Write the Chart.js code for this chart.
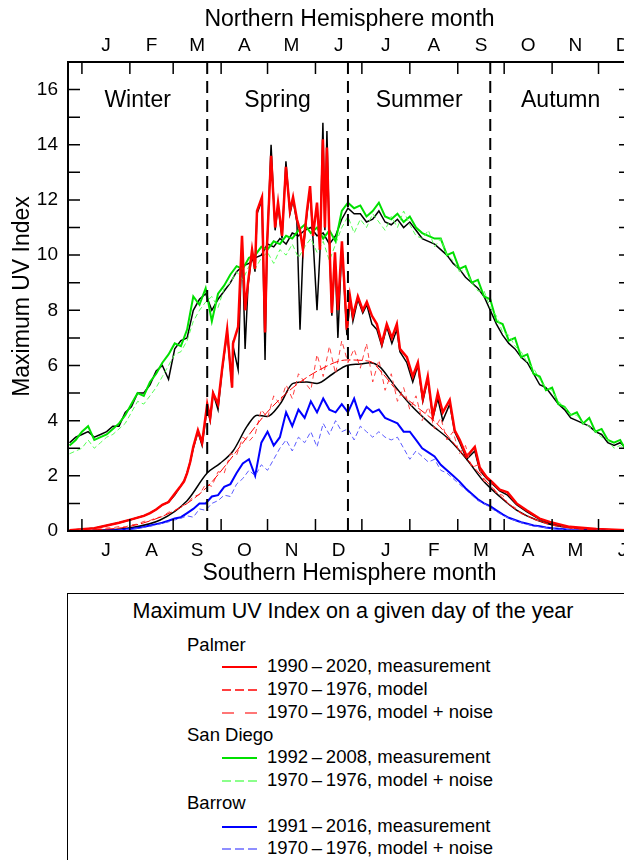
<!DOCTYPE html>
<html>
<head>
<meta charset="utf-8">
<script src="https://cdn.jsdelivr.net/npm/chart.js@4.4.1/dist/chart.umd.min.js"></script>
<style>
  html, body { margin: 0; padding: 0; background: #fff; width: 624px; height: 860px; overflow: hidden; }
  body { position: relative; font-family: "Liberation Sans", Arial, sans-serif; color: #000; }
  #uv { position: absolute; left: 0; top: 0; }
  #legend { position: absolute; left: 67px; top: 593px; width: 572px; height: 290px; border: 1.5px solid #000; box-sizing: border-box; }
  #legend .ttl { position: absolute; left: 0; right: 0; top: 5px; text-align: center; font-size: 21.5px; }
  #legend .grp { position: absolute; left: 119px; font-size: 18.5px; }
  #legend .item { position: absolute; left: 154px; font-size: 18.5px; white-space: nowrap; }
  #legend .item svg { vertical-align: middle; margin-right: 9px; }
</style>
</head>
<body>
<canvas id="uv" width="640" height="590"></canvas>
<div id="legend"></div>
<script>
// day of year (Northern calendar), every 4 days
const days4 = [-8,-4,0,4,8,12,16,20,24,28,32,36,40,44,48,52,56,60,64,68,72,76,80,84,88,92,96,100,104,108,
  112,116,120,124,128,132,136,140,144,148,152,156,160,164,168,172,176,180,184,188,192,196,200,204,208,212,216,220,224,228,
  232,236,240,244,248,252,256,260,264,268,272,276,280,284,288,292,296,300,304,308,312,316,320,324,328,332,336,340,344,348,352];

const monthStarts = [0,31,59,90,120,151,181,212,243,273,304,334,365];
const northMonths = ['J','F','M','A','M','J','J','A','S','O','N','D'];
const southMonths = ['J','A','S','O','N','D','J','F','M','A','M','J'];
const seasonDays = [81, 172, 264];
const seasonNames = ['Winter','Spring','Summer','Autumn'];
const yTicks = [0,2,4,6,8,10,12,14,16];

// San Diego
const sdMeas = [3.1,3.3,3.6,3.8,3.3,3.4,3.5,3.7,3.9,4.2,
  4.6,5.0,4.9,5.4,5.7,6.1,6.4,6.8,6.7,7.3,
  8.5,8.2,8.8,7.6,8.6,8.9,9.3,9.6,9.5,9.9,
  10.0,10.3,10.2,10.5,10.4,10.7,10.6,10.9,11.1,10.8,
  11.0,10.6,10.9,10.5,11.6,11.9,11.7,11.8,11.4,11.6,
  11.9,11.4,11.3,11.5,11.2,11.4,11.0,10.8,10.7,10.6,
  10.6,10.0,10.1,9.5,9.6,9.0,9.1,8.5,8.4,7.6,
  7.5,6.9,7.0,6.3,6.4,5.7,5.6,5.1,5.2,4.6,
  4.5,4.2,4.3,3.9,4.1,3.6,3.7,3.3,3.2,3.3,2.9];
const sdNoise = [2.8,2.9,3.0,3.3,3.0,3.2,3.4,3.5,3.7,3.9,
  4.3,4.7,4.6,4.9,5.2,5.6,6.0,6.4,6.5,6.9,
  7.6,8.0,8.3,8.5,8.1,8.8,9.0,9.4,9.1,9.6,
  9.5,9.9,10.1,9.7,10.2,10.0,10.4,9.9,10.3,10.6,
  10.1,10.5,9.8,10.4,11.0,11.4,10.8,11.3,11.0,11.5,
  11.2,10.9,11.4,11.0,11.6,11.1,10.7,10.6,10.9,10.3,
  10.6,10.0,9.8,9.4,9.5,9.0,8.7,8.7,8.1,7.8,
  7.2,7.1,6.7,6.5,6.1,5.9,5.5,5.2,5.1,4.7,
  4.5,4.2,4.2,3.9,3.8,3.6,3.4,3.3,3.0,3.1,2.9];
const sdBlack = [3.2,3.4,3.5,3.6,3.4,3.5,3.6,3.8,3.8,4.3,
  4.5,5.0,5.0,5.3,5.8,6.0,5.5,6.6,6.9,7.0,
  8.0,8.4,8.6,8.0,8.4,8.7,9.0,9.4,9.6,9.7,
  9.9,10.0,10.4,10.3,10.6,10.4,10.8,10.7,10.9,11.0,
  10.7,10.8,10.4,10.7,11.3,11.7,11.5,11.5,11.2,11.3,
  11.6,11.2,11.1,11.3,11.0,11.2,10.9,10.6,10.5,10.4,
  10.2,10.0,9.7,9.5,9.2,9.0,8.8,8.5,8.0,7.5,
  7.1,6.8,6.6,6.3,6.1,5.7,5.3,5.2,4.9,4.6,
  4.4,4.1,4.0,3.9,3.8,3.6,3.5,3.2,3.1,3.2,3.0];

// Palmer (irregular sampling through the spiky spring)
const palmerDays = [-8,0,8,16,24,32,40,44,48,52,
  56,60,63.5,66,68,70,72,75,77.7,81,
  82.9,84.8,88,90.6,93.9,97.1,97.7,101,103.5,105.5,
  107.4,110,111.9,113.2,116.4,118.4,119.7,122.3,124.9,126.8,
  129.4,131.9,134.5,136.5,139,141,142.9,145.5,147.5,149.4,
  152,153.9,155.8,157.1,158.4,160.4,161.6,163.6,165.5,168.1,
  171.3,173.3,175.2,178.4,181.6,184.2,187.5,190.7,193.9,197.1,
  200.4,203.6,205.6,210.1,213.9,217.2,220.4,223.6,226.9,230.1,
  233.3,237.8,241,244.3,248.8,254,257.2,261.7,265.6,270.1,
  275.2,281,287.5,295.9,302.4,315.3,332.7,352];
const palmerMeas = [0.03,0.06,0.1,0.2,0.3,0.42,0.55,0.65,0.78,0.95,
  1.05,1.35,1.6,1.8,2.1,2.5,3.05,3.65,3.2,4.6,
  4.1,5.0,4.6,5.85,7.3,5.2,6.8,7.4,10.7,8.0,
  9.0,10.2,9.5,11.6,12.1,7.2,10.4,13.6,11.0,11.9,
  10.7,13.2,11.6,12.1,11.3,10.9,10.2,11.6,12.5,10.7,
  11.9,10.2,14.2,11.0,13.9,9.8,7.9,10.1,8.0,10.5,
  7.3,8.5,7.8,8.5,8.0,8.3,7.8,7.5,6.8,7.5,
  7.0,7.5,6.6,6.3,5.6,6.1,4.8,5.6,4.15,5.0,
  4.3,4.75,3.65,3.3,2.7,3.05,2.3,1.95,1.75,1.5,
  1.4,1.0,0.75,0.45,0.33,0.15,0.07,0.03];
const palmerBlack = [0.03,0.06,0.1,0.2,0.3,0.42,0.55,0.65,0.78,0.95,
  1.05,1.3,1.6,1.8,2.1,2.5,3.0,3.6,3.1,4.5,
  4.0,5.0,4.4,5.8,7.2,5.2,6.7,5.85,10.6,6.6,
  8.9,10.1,9.4,11.5,12.0,6.2,10.3,14.0,10.9,11.8,
  10.6,13.4,11.5,12.0,11.2,7.3,10.1,11.5,12.4,10.6,
  8.0,10.1,14.8,10.9,14.5,9.7,7.8,10.0,7.0,10.4,
  7.1,8.4,7.6,8.4,7.9,8.2,7.5,7.3,6.7,7.4,
  6.8,7.3,6.5,6.1,5.4,6.0,4.7,5.5,4.1,4.8,
  4.0,4.6,3.6,3.2,2.6,2.9,2.2,1.9,1.7,1.45,
  1.3,0.95,0.7,0.42,0.3,0.14,0.06,0.03];
const palmerModelDays = [-8,10,29.3,50.6,68,81,93.9,106.8,119.7,136.5,153.9,171.3,186.2,194.6,203.6,216.5,229.4,242.3,255.2,268.2,281,294,310.8,332.7,352];
const palmerModel = [0.01,0.05,0.15,0.5,1.0,1.6,2.45,3.4,4.3,5.2,5.85,6.2,6.15,5.7,5.1,4.5,3.9,3.05,2.2,1.4,0.76,0.4,0.15,0.04,0.01];
const palmerNoise = [0.01,0.02,0.04,0.03,0.07,0.08,0.11,0.12,0.16,0.15,
  0.22,0.25,0.35,0.38,0.48,0.52,0.68,0.74,0.9,0.98,
  1.25,1.32,1.7,1.62,2.15,2.1,2.8,2.75,3.4,3.25,
  3.5,4.4,4.1,4.9,4.6,5.3,4.8,5.7,5.4,5.1,
  6.4,5.6,6.7,5.7,6.9,6.1,6.6,5.9,6.8,5.4,
  6.2,5.1,5.7,4.7,5.2,4.4,4.9,4.0,4.5,3.7,
  4.1,3.3,3.6,2.8,3.1,2.3,2.4,1.8,1.8,1.35,
  1.3,0.95,0.85,0.63,0.56,0.41,0.36,0.27,0.22,0.16,
  0.14,0.1,0.08,0.06,0.05,0.04,0.03,0.03,0.02,0.02,0.01];
const blackSmoothDays = [-8,10,29.3,50.6,68,81,89.3,97.7,106.8,113.2,119.7,128.1,136.5,145.5,152,162.3,171.3,179.7,186.2,192.6,201,212,224.9,237.8,248.8,259,270.1,281,294,310.8,332.7,352];
const blackSmooth = [0.01,0.03,0.1,0.4,1.1,2.1,2.45,2.9,3.8,4.2,4.15,4.6,5.35,5.4,5.35,5.7,6.0,6.05,6.1,5.95,5.35,4.6,3.9,3.3,2.6,1.85,1.25,0.76,0.4,0.15,0.04,0.01];

// Barrow
const barrowMeas = [0,0,0,0,0.01,0.01,0.02,0.03,0.04,0.06,
  0.08,0.11,0.15,0.2,0.25,0.3,0.37,0.45,0.5,0.65,
  0.8,1.0,1.0,1.25,1.3,1.6,1.7,2.1,2.45,2.6,
  2.0,3.2,3.6,3.1,3.4,4.3,3.8,4.4,4.1,4.7,
  4.3,4.8,4.4,4.3,4.6,4.3,4.8,4.1,4.5,4.3,
  4.4,4.1,4.0,3.9,3.6,3.6,3.3,3.0,2.85,2.7,
  2.4,2.2,2.0,1.8,1.55,1.35,1.15,1.0,0.9,0.75,
  0.6,0.48,0.4,0.32,0.26,0.2,0.17,0.13,0.1,0.08,
  0.06,0.04,0.03,0.02,0.02,0.01,0.01,0,0,0,0];
const barrowNoise = [0,0,0,0,0.01,0.01,0.02,0.02,0.03,0.05,
  0.07,0.09,0.13,0.17,0.22,0.28,0.33,0.4,0.46,0.55,
  0.5,0.8,0.75,1.0,1.1,1.3,1.25,1.7,1.9,2.2,
  2.0,2.4,2.2,2.6,3.0,3.3,2.9,3.4,3.2,3.6,
  3.05,3.9,3.5,4.0,3.6,3.7,3.3,3.8,3.6,3.4,
  3.6,3.4,3.3,3.4,3.0,2.6,2.9,2.7,2.5,2.6,
  2.2,2.1,1.9,1.7,1.5,1.3,1.1,1.0,0.85,0.7,
  0.58,0.46,0.38,0.3,0.24,0.19,0.15,0.12,0.09,0.07,
  0.05,0.04,0.03,0.02,0.01,0.01,0,0,0,0,0];

const FONT = '"Liberation Sans", Arial, sans-serif';
const pts = (xs, ys) => xs.map((d, i) => ({ x: d, y: ys[i] }));
const monthMids = monthStarts.slice(0, 12).map((d, i) => (d + monthStarts[i + 1]) / 2);

function series(label, xs, ys, color, width, dash, smooth) {
  return {
    label, data: pts(xs, ys), borderColor: color, borderWidth: width,
    borderDash: dash || [], pointRadius: 0, fill: false,
    tension: smooth ? 0.4 : 0, cubicInterpolationMode: smooth ? 'monotone' : 'default'
  };
}

// first listed is drawn on top
const datasets = [
  series('Palmer model', palmerModelDays, palmerModel, '#ff0000', 1, [9, 3], true),
  series('Palmer model + noise', days4, palmerNoise, '#ff4040', 1, [5, 4]),
  series('Barrow model + noise', days4, barrowNoise, '#5a5aff', 1, [5, 3]),
  series('Barrow measurement', days4, barrowMeas, '#0000ff', 2),
  series('Palmer measurement', palmerDays, palmerMeas, '#ff0000', 2.5),
  series('San Diego model + noise', days4, sdNoise, '#55ff55', 1, [5, 3]),
  series('San Diego measurement', days4, sdMeas, '#00e000', 2),
  series('Palmer smooth', blackSmoothDays, blackSmooth, '#000000', 1.5, [], true),
  series('Palmer black', palmerDays, palmerBlack, '#000000', 1.5),
  series('San Diego black', days4, sdBlack, '#000000', 1.5)
];

const framePlugin = {
  id: 'frame',
  afterDatasetsDraw(chart) {
    const { ctx, chartArea: a, scales: { x, y } } = chart;
    ctx.save();
    ctx.strokeStyle = '#000';
    ctx.lineWidth = 2;
    ctx.setLineDash([12, 7]);
    seasonDays.forEach(d => {
      const px = x.getPixelForValue(d);
      ctx.beginPath(); ctx.moveTo(px, a.top); ctx.lineTo(px, a.bottom); ctx.stroke();
    });
    ctx.setLineDash([]);
    ctx.lineWidth = 1.5;
    const tl = 12;
    monthStarts.forEach(d => {
      const px = x.getPixelForValue(d);
      ctx.beginPath();
      ctx.moveTo(px, a.top); ctx.lineTo(px, a.top + tl);
      ctx.moveTo(px, a.bottom); ctx.lineTo(px, a.bottom - tl);
      ctx.stroke();
    });
    for (let v = 1; v < 17; v++) {
      const py = y.getPixelForValue(v);
      ctx.beginPath();
      ctx.moveTo(a.left, py); ctx.lineTo(a.left + tl, py);
      ctx.moveTo(a.right, py); ctx.lineTo(a.right - tl, py);
      ctx.stroke();
    }
    ctx.lineWidth = 2;
    ctx.strokeRect(a.left, a.top, a.right - a.left, a.bottom - a.top);
    ctx.fillStyle = '#000';
    ctx.font = '23px ' + FONT;
    ctx.textAlign = 'center';
    ctx.textBaseline = 'middle';
    const edges = [x.min].concat(seasonDays, [x.max]);
    seasonNames.forEach((name, i) => {
      ctx.fillText(name, x.getPixelForValue((edges[i] + edges[i + 1]) / 2), y.getPixelForValue(15.6));
    });
    ctx.restore();
  }
};

const tickFont = { size: 19, family: FONT };
const titleFont = { size: 23, family: FONT };

new Chart(document.getElementById('uv'), {
  type: 'line',
  data: { datasets },
  options: {
    responsive: false,
    animation: false,
    devicePixelRatio: 1,
    layout: { padding: { left: 0, top: 0, bottom: 0, right: 9 } },
    plugins: { legend: { display: false }, tooltip: { enabled: false } },
    scales: {
      x: {
        type: 'linear', position: 'bottom', min: -9, max: 355,
        grid: { display: false, drawTicks: false }, border: { display: false },
        afterBuildTicks: s => { s.ticks = monthMids.map(v => ({ value: v })); },
        ticks: { callback: (v, i) => southMonths[i], padding: 8, color: '#000', font: tickFont, maxRotation: 0, autoSkip: false },
        title: { display: true, text: 'Southern Hemisphere month', color: '#000', font: titleFont, padding: { top: 0, bottom: 3 } },
        afterFit: s => { s.height = 59; }
      },
      x2: {
        type: 'linear', position: 'top', min: -9, max: 355,
        grid: { display: false, drawTicks: false }, border: { display: false },
        afterBuildTicks: s => { s.ticks = monthMids.map(v => ({ value: v })); },
        ticks: { callback: (v, i) => northMonths[i], padding: 5, color: '#000', font: tickFont, maxRotation: 0, autoSkip: false },
        title: { display: true, text: 'Northern Hemisphere month', color: '#000', font: titleFont, padding: { top: 6, bottom: 0 } },
        afterFit: s => { s.height = 62; }
      },
      y: {
        type: 'linear', min: 0, max: 17,
        grid: { display: false, drawTicks: false }, border: { display: false },
        afterBuildTicks: s => { s.ticks = yTicks.map(v => ({ value: v })); },
        ticks: { padding: 10, color: '#000', font: tickFont },
        title: { display: true, text: 'Maximum UV Index', color: '#000', font: titleFont, padding: { top: 9, bottom: 0 } },
        afterFit: s => { s.width = 68; }
      }
    }
  },
  plugins: [framePlugin]
});

// legend box
const legendRows = [
  { ttl: 'Maximum UV Index on a given day of the year', top: 5 },
  { grp: 'Palmer', top: 40 },
  { item: '1990\u2009\u2013\u20092020, measurement', color: '#ff0000', w: 2, dash: '', top: 61 },
  { item: '1970\u2009\u2013\u20091976, model', color: '#ff0000', w: 1.5, dash: '9 4', top: 84 },
  { item: '1970\u2009\u2013\u20091976, model + noise', color: '#ff4a4a', w: 1.5, dash: '12 11', top: 107 },
  { grp: 'San Diego', top: 130 },
  { item: '1992\u2009\u2013\u20092008, measurement', color: '#00e000', w: 2, dash: '', top: 152 },
  { item: '1970\u2009\u2013\u20091976, model + noise', color: '#66ff66', w: 1.5, dash: '9 4', top: 175 },
  { grp: 'Barrow', top: 198 },
  { item: '1991\u2009\u2013\u20092016, measurement', color: '#0000ff', w: 2, dash: '', top: 221 },
  { item: '1970\u2009\u2013\u20091976, model + noise', color: '#6a6aff', w: 1.5, dash: '9 4', top: 243 }
];
const box = document.getElementById('legend');
legendRows.forEach(r => {
  const el = document.createElement('div');
  if (r.ttl) { el.className = 'ttl'; el.textContent = r.ttl; }
  else if (r.grp) { el.className = 'grp'; el.textContent = r.grp; }
  else {
    el.className = 'item';
    el.innerHTML = '<svg width="36" height="6"><line x1="0" y1="3" x2="35" y2="3" stroke="' + r.color +
      '" stroke-width="' + r.w + '"' + (r.dash ? ' stroke-dasharray="' + r.dash + '"' : '') + '/></svg>' + r.item;
  }
  el.style.top = r.top + 'px';
  box.appendChild(el);
});
</script>
</body>
</html>
